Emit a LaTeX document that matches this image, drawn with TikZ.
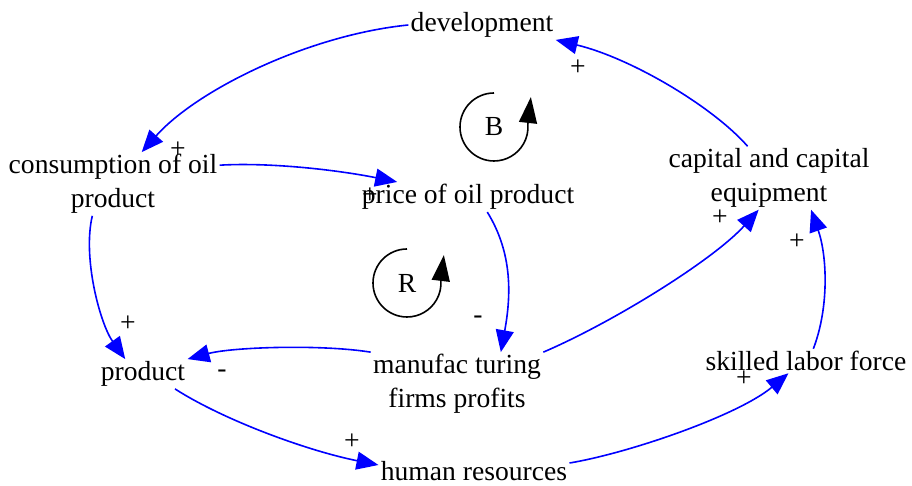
\documentclass[tikz,border=0pt]{standalone}
\usepackage{fontspec}
\setmainfont{Liberation Serif}
\usetikzlibrary{arrows.meta}

\tikzset{
  var/.style={inner sep=1pt, align=center, font=\fontsize{13.8}{16.8}\selectfont},
  sign/.style={inner sep=0pt, font=\fontsize{13.8}{16}\selectfont},
  link/.style={draw=blue, line width=0.8pt, -{Triangle[length=11pt,width=9pt]}},
  loopline/.style={draw=black, line width=0.8pt, -{Triangle[length=13pt,width=9pt]}}
}

\begin{document}
\begin{tikzpicture}[x=0.5pt, y=-0.5pt]
    %\draw[help lines] (0,0) grid (912,486);
    \useasboundingbox (0,0) rectangle (912,486);
    % variables
    \node[var] (dev)   at (482,25)  {development};
    \node[var] (cons)  at (113,184) {consumption of oil\\product};
    \node[var] (price) at (468,197) {price of oil product};
    \node[var] (capit) at (769,178) {capital and capital\\equipment};
    \node[var] (prod)  at (143,374) {product};
    \node[var] (manuf) at (457,384) {manufac turing\\firms profits};
    \node[var] (skill) at (806,361) {skilled labor force};
    \node[var, inner sep=0pt] (human) at (474,471) {human resources};
    % loop symbols
    \node[var] (bal)  at (494,127) {B};
    \node[var] (rein) at (407,283) {R};
    \draw[loopline] (bal) ++(0,-34) arc (270:-5:34) -- ++(3,-27);
    \draw[loopline] (rein) ++(0,-34) arc (270:-5:34) -- ++(3,-25);
    % links
    \draw[link] (dev.west) .. controls +(-100,10) and +(55,-62) .. (cons.48);
    \draw[link] (capit.124) .. controls +(-35,-40) and +(75,18) .. (dev.south east);
    \draw[link] (cons.10) .. controls +(50,-3) and +(-60,-12) .. (price.168);
    \draw[link] (price.-38) .. controls +(26,42) and +(10,-55) .. (manuf.36);
    \draw[link] (manuf.north west) .. controls +(-50,-8) and +(45,-12) .. (prod.north east);
    \draw[link] (cons.237) .. controls +(-10,42) and +(-25,-35) .. (prod.140);
    \draw[link] (prod.-25) .. controls +(50,32) and +(-70,-14) .. ([xshift=-1pt,yshift=3pt]human.west);
    \draw[link] ([xshift=1pt,yshift=4pt]human.east) .. controls +(60,-10) and +(-50,42) .. (skill.215);
    \draw[link] (manuf.north east) .. controls +(70,-30) and +(-45,50) .. (capit.252);
    \draw[link] (skill.59) .. controls +(16,-42) and +(16,46) .. (capit.-37);
    % polarities
    \node[sign] (pl1)  at (178,150) {+};
    \node[sign] (pl2)  at (578,68)  {+};
    \node[sign] (pl3)  at (370,196) {+};
    \node[sign] (pl4)  at (478,320) {-};
    \node[sign] (pl5)  at (222,374) {-};
    \node[sign] (pl6)  at (128,324) {+};
    \node[sign] (pl7)  at (352,442) {+};
    \node[sign] (pl8)  at (744,379) {+};
    \node[sign] (pl9)  at (720,218) {+};
    \node[sign] (pl10) at (797,242) {+};
\end{tikzpicture}
\end{document}
